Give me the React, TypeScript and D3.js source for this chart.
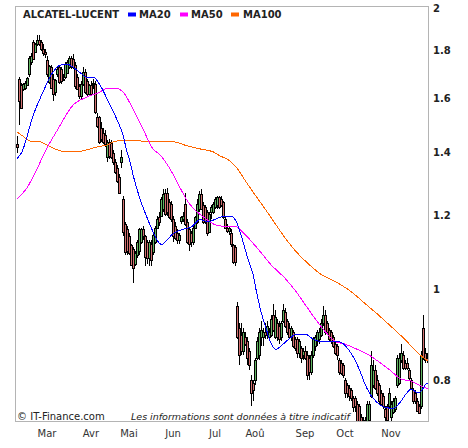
import React from 'react';
import * as d3 from 'd3';

// open, high, low, close
type Candle = [number, number, number, number];
type Pt = [number, number];

const febCandles: Candle[] = [
  [1.43, 1.46, 1.40, 1.42], [1.68, 1.69, 1.50, 1.59], [1.655, 1.665, 1.56, 1.565], [1.64, 1.665, 1.63, 1.66],
  [1.645, 1.67, 1.635, 1.665], [1.655, 1.69, 1.65, 1.685], [1.70, 1.78, 1.69, 1.77], [1.75, 1.79, 1.74, 1.78],
  [1.84, 1.85, 1.76, 1.765], [1.795, 1.835, 1.79, 1.83], [1.83, 1.87, 1.82, 1.85], [1.85, 1.87, 1.82, 1.83],
  [1.84, 1.85, 1.80, 1.81], [1.81, 1.83, 1.78, 1.79], [1.795, 1.81, 1.77, 1.785],
];
const marCandles: Candle[] = [
  [1.76, 1.78, 1.69, 1.70], [1.667, 1.74, 1.66, 1.735], [1.73, 1.74, 1.64, 1.645], [1.68, 1.70, 1.59, 1.62],
  [1.627, 1.68, 1.61, 1.675], [1.70, 1.73, 1.69, 1.72], [1.73, 1.74, 1.66, 1.667], [1.72, 1.73, 1.66, 1.67],
  [1.68, 1.70, 1.67, 1.675], [1.69, 1.75, 1.68, 1.745], [1.705, 1.76, 1.70, 1.75], [1.73, 1.78, 1.72, 1.77],
  [1.77, 1.78, 1.72, 1.735], [1.765, 1.785, 1.72, 1.73], [1.74, 1.75, 1.64, 1.65], [1.69, 1.70, 1.635, 1.64],
  [1.65, 1.66, 1.60, 1.61], [1.61, 1.67, 1.60, 1.66], [1.66, 1.73, 1.65, 1.71], [1.71, 1.72, 1.62, 1.625],
  [1.67, 1.68, 1.61, 1.62], [1.62, 1.66, 1.61, 1.655],
];
const aprCandles: Candle[] = [
  [1.655, 1.67, 1.615, 1.62], [1.665, 1.68, 1.64, 1.66], [1.66, 1.67, 1.54, 1.55], [1.53, 1.545, 1.49, 1.495],
  [1.53, 1.535, 1.43, 1.44], [1.49, 1.51, 1.44, 1.45], [1.47, 1.49, 1.43, 1.44], [1.465, 1.48, 1.42, 1.43],
  [1.385, 1.445, 1.37, 1.44], [1.44, 1.45, 1.38, 1.39], [1.435, 1.445, 1.38, 1.385], [1.40, 1.41, 1.36, 1.37],
  [1.37, 1.38, 1.33, 1.336], [1.35, 1.36, 1.30, 1.305], [1.32, 1.33, 1.27, 1.27], [1.37, 1.41, 1.35, 1.385],
  [1.25, 1.26, 1.14, 1.153], [1.175, 1.18, 1.09, 1.098], [1.16, 1.17, 1.09, 1.10],
];
const mayCandles: Candle[] = [
  [1.14, 1.15, 1.09, 1.095], [1.115, 1.12, 1.06, 1.063], [1.105, 1.11, 1.015, 1.055], [1.065, 1.10, 1.06, 1.095],
  [1.09, 1.13, 1.08, 1.125], [1.10, 1.165, 1.09, 1.16], [1.125, 1.165, 1.12, 1.16], [1.16, 1.17, 1.13, 1.14],
  [1.14, 1.145, 1.06, 1.083], [1.125, 1.13, 1.065, 1.08], [1.08, 1.13, 1.06, 1.125], [1.12, 1.13, 1.06, 1.075],
  [1.098, 1.15, 1.09, 1.145], [1.125, 1.17, 1.12, 1.165], [1.165, 1.20, 1.16, 1.19], [1.195, 1.21, 1.17, 1.18],
  [1.20, 1.255, 1.195, 1.25], [1.22, 1.28, 1.21, 1.265], [1.27, 1.28, 1.20, 1.205], [1.27, 1.285, 1.20, 1.21],
  [1.24, 1.25, 1.19, 1.195], [1.235, 1.245, 1.18, 1.19],
];
const junCandles: Candle[] = [
  [1.19, 1.20, 1.125, 1.14], [1.17, 1.18, 1.13, 1.135], [1.15, 1.16, 1.12, 1.13], [1.13, 1.15, 1.12, 1.145],
  [1.185, 1.20, 1.175, 1.195], [1.19, 1.21, 1.18, 1.20], [1.235, 1.27, 1.17, 1.175], [1.18, 1.19, 1.12, 1.125],
  [1.16, 1.165, 1.10, 1.12], [1.15, 1.155, 1.11, 1.125], [1.125, 1.17, 1.115, 1.165], [1.165, 1.20, 1.16, 1.195],
  [1.18, 1.25, 1.175, 1.235], [1.22, 1.275, 1.21, 1.265], [1.265, 1.28, 1.215, 1.22], [1.23, 1.24, 1.175, 1.18],
  [1.225, 1.23, 1.175, 1.18], [1.21, 1.215, 1.14, 1.15], [1.153, 1.21, 1.15, 1.205], [1.21, 1.23, 1.19, 1.225],
  [1.21, 1.24, 1.205, 1.235],
];
const julCandles: Candle[] = [
  [1.225, 1.255, 1.22, 1.25], [1.23, 1.26, 1.22, 1.255], [1.255, 1.26, 1.22, 1.225], [1.25, 1.26, 1.225, 1.23],
  [1.24, 1.245, 1.19, 1.195], [1.19, 1.20, 1.16, 1.165], [1.165, 1.175, 1.15, 1.155], [1.155, 1.17, 1.145, 1.165],
  [1.15, 1.16, 1.11, 1.12], [1.115, 1.12, 1.065, 1.07], [1.11, 1.115, 1.06, 1.07], [0.96, 0.97, 0.885, 0.89],
  [0.91, 0.92, 0.83, 0.85], [0.895, 0.92, 0.85, 0.86], [0.86, 0.91, 0.85, 0.90], [0.89, 0.90, 0.87, 0.875],
  [0.88, 0.89, 0.83, 0.845], [0.86, 0.865, 0.82, 0.83], [0.80, 0.81, 0.75, 0.775], [0.795, 0.80, 0.76, 0.78],
  [0.80, 0.845, 0.79, 0.84], [0.845, 0.89, 0.84, 0.88],
];
const augCandles: Candle[] = [
  [0.85, 0.91, 0.84, 0.90], [0.89, 0.925, 0.87, 0.905], [0.89, 0.91, 0.87, 0.90], [0.90, 0.92, 0.885, 0.895],
  [0.893, 0.925, 0.885, 0.915], [0.89, 0.91, 0.88, 0.90], [0.895, 0.94, 0.89, 0.93], [0.94, 0.965, 0.90, 0.905],
  [0.89, 0.95, 0.885, 0.935], [0.92, 0.93, 0.88, 0.89], [0.915, 0.925, 0.875, 0.885], [0.89, 0.925, 0.88, 0.92],
  [0.925, 0.965, 0.92, 0.95], [0.945, 0.955, 0.91, 0.915], [0.925, 0.93, 0.895, 0.90], [0.91, 0.92, 0.885, 0.89],
  [0.89, 0.915, 0.88, 0.91], [0.90, 0.905, 0.865, 0.87], [0.885, 0.89, 0.86, 0.865], [0.885, 0.89, 0.845, 0.855],
  [0.855, 0.885, 0.845, 0.88], [0.865, 0.87, 0.835, 0.845], [0.85, 0.865, 0.84, 0.86],
];
const sepCandles: Candle[] = [
  [0.86, 0.87, 0.84, 0.845], [0.85, 0.86, 0.80, 0.81], [0.845, 0.85, 0.80, 0.815], [0.815, 0.86, 0.81, 0.85],
  [0.85, 0.89, 0.845, 0.885], [0.87, 0.895, 0.86, 0.89], [0.88, 0.905, 0.87, 0.90], [0.885, 0.91, 0.875, 0.90],
  [0.895, 0.93, 0.89, 0.92], [0.92, 0.96, 0.915, 0.94], [0.94, 0.95, 0.895, 0.90], [0.92, 0.925, 0.895, 0.90],
  [0.905, 0.91, 0.88, 0.885], [0.90, 0.905, 0.875, 0.88], [0.89, 0.895, 0.865, 0.87], [0.875, 0.88, 0.85, 0.855],
  [0.87, 0.875, 0.84, 0.85], [0.84, 0.845, 0.81, 0.815], [0.835, 0.84, 0.81, 0.813], [0.83, 0.835, 0.805, 0.81],
];
const octCandles: Candle[] = [
  [0.80, 0.805, 0.765, 0.775], [0.79, 0.795, 0.765, 0.775], [0.785, 0.79, 0.76, 0.77], [0.78, 0.785, 0.76, 0.765],
  [0.765, 0.77, 0.74, 0.748], [0.765, 0.77, 0.74, 0.75], [0.755, 0.76, 0.72, 0.723], [0.75, 0.755, 0.715, 0.72],
  [0.73, 0.735, 0.70, 0.71], [0.725, 0.73, 0.70, 0.705], [0.72, 0.73, 0.70, 0.71], [0.72, 0.76, 0.715, 0.755],
  [0.725, 0.76, 0.715, 0.755], [0.77, 0.86, 0.765, 0.83], [0.79, 0.84, 0.785, 0.82], [0.82, 0.83, 0.78, 0.785],
  [0.80, 0.81, 0.77, 0.775], [0.79, 0.795, 0.755, 0.76], [0.775, 0.78, 0.75, 0.755], [0.77, 0.775, 0.745, 0.75],
  [0.745, 0.75, 0.72, 0.73], [0.75, 0.755, 0.72, 0.725], [0.75, 0.785, 0.745, 0.775],
];
const novCandles: Candle[] = [
  [0.73, 0.76, 0.72, 0.755], [0.74, 0.765, 0.735, 0.76], [0.745, 0.77, 0.74, 0.765], [0.79, 0.85, 0.785, 0.845],
  [0.795, 0.855, 0.79, 0.845], [0.84, 0.875, 0.835, 0.855], [0.85, 0.86, 0.82, 0.825], [0.835, 0.84, 0.82, 0.825],
  [0.835, 0.845, 0.82, 0.825], [0.82, 0.825, 0.80, 0.805], [0.80, 0.805, 0.78, 0.785], [0.78, 0.785, 0.755, 0.76],
  [0.775, 0.78, 0.755, 0.76], [0.76, 0.765, 0.74, 0.742], [0.75, 0.755, 0.735, 0.738], [0.75, 0.86, 0.745, 0.848],
  [0.91, 0.94, 0.84, 0.845], [0.855, 0.866, 0.835, 0.84], [0.845, 0.855, 0.835, 0.84],
];

// moving averages, read as [day index, value]
const ma20: Pt[] = [
  [0, 1.38], [2.5, 1.404], [8, 1.534], [13, 1.627], [18, 1.709], [21.5, 1.738], [25, 1.742], [28, 1.73],
  [32.5, 1.70], [35.5, 1.684], [38, 1.688], [41.5, 1.655], [46.5, 1.575], [50.5, 1.511], [53, 1.463],
  [55, 1.404], [56.5, 1.37], [58, 1.327], [61.5, 1.25], [65, 1.194], [68, 1.153], [70.5, 1.125], [72.5, 1.117],
  [75, 1.13], [78, 1.147], [82.5, 1.159], [87.5, 1.168], [91.5, 1.188], [95.5, 1.182], [100, 1.191],
  [103, 1.197], [107.5, 1.197], [110, 1.177], [113, 1.125], [115.5, 1.078], [118, 1.038], [119.5, 1.0],
  [122, 0.947], [124.5, 0.909], [127, 0.876], [129.5, 0.863], [133, 0.874], [136.5, 0.887], [139.5, 0.896],
  [144, 0.896], [148, 0.885], [151.5, 0.88], [155.5, 0.88], [160.5, 0.88], [164.5, 0.869], [168, 0.848],
  [171.5, 0.818], [174, 0.792], [176.5, 0.773], [179.5, 0.759], [184, 0.748], [188, 0.746], [191.5, 0.757],
  [194.5, 0.773], [197, 0.782], [200.5, 0.775], [202, 0.778], [204.5, 0.792], [206, 0.794],
];
const ma50: Pt[] = [
  [0, 1.25], [5, 1.285], [10, 1.346], [14, 1.404], [20.5, 1.485], [28, 1.575], [35, 1.607], [41.5, 1.627],
  [44, 1.639], [49, 1.643], [53, 1.627], [58, 1.56], [63, 1.485], [68, 1.414], [71.5, 1.394], [76.5, 1.346],
  [81.5, 1.285], [85.5, 1.241], [90, 1.211], [95, 1.188], [100, 1.171], [105, 1.168], [109, 1.168],
  [114, 1.145], [120.5, 1.105], [127, 1.063], [134, 1.028], [139.5, 0.995], [144, 0.964], [149, 0.931],
  [154, 0.902], [159, 0.88], [164, 0.874], [169, 0.865], [175.5, 0.852], [180.5, 0.838], [187, 0.818],
  [192, 0.802], [197, 0.798], [202, 0.788], [206, 0.782],
];
const ma100: Pt[] = [
  [0, 1.474], [3, 1.459], [6.5, 1.442], [11.5, 1.439], [15, 1.428], [20, 1.411], [25, 1.404], [30, 1.404],
  [35, 1.411], [40, 1.421], [45, 1.428], [50, 1.442], [55, 1.442], [61.5, 1.442], [66.5, 1.439], [71.5, 1.439],
  [78, 1.439], [85, 1.425], [91.5, 1.414], [98, 1.404], [101.5, 1.39], [105.5, 1.377], [109.5, 1.353],
  [114.5, 1.304], [119, 1.263], [124, 1.22], [129, 1.177], [134, 1.136], [139.5, 1.098], [145.5, 1.066],
  [152, 1.038], [159, 1.02], [167, 0.995], [174, 0.966], [180.5, 0.94], [187, 0.913], [194, 0.884],
  [200.5, 0.855], [205.5, 0.838],
];

const monthLabels = ['Mar', 'Avr', 'Mai', 'Jun', 'Jul', 'Aoû', 'Sep', 'Oct', 'Nov'];
const monthStarts = [15, 37, 56, 78, 99, 119, 144, 164, 187];
const yTicks = [2, 1.8, 1.6, 1.4, 1.2, 1, 0.8];

const candles: Candle[] = [
  ...febCandles, ...marCandles, ...aprCandles, ...mayCandles, ...junCandles,
  ...julCandles, ...augCandles, ...sepCandles, ...octCandles, ...novCandles,
];

const font = '"DejaVu Sans", Verdana, sans-serif';

export default function App() {
  const width = 468;
  const height = 448;
  const plot = { left: 15, top: 6, right: 429, bottom: 422 };

  const x = d3.scaleLinear().domain([-1, 206]).range([plot.left, plot.right]);
  const y = d3.scaleLog().domain([0.7214, 2.011]).range([plot.bottom, plot.top]);

  const line = d3.line<Pt>()
    .x(d => x(d[0]))
    .y(d => y(d[1]))
    .curve(d3.curveMonotoneX);

  const legend = [
    { name: 'MA20', color: '#0000ff', rx: 128, tx: 139 },
    { name: 'MA50', color: '#ff00ff', rx: 180, tx: 191 },
    { name: 'MA100', color: '#ff6600', rx: 231, tx: 243 },
  ];

  return (
    <svg width={width} height={height} style={{ position: 'absolute', left: 0, top: 0, background: '#fff' }}
      fontFamily={font}>
      <defs>
        <clipPath id="plotClip">
          <rect x={plot.left} y={plot.top} width={plot.right - plot.left} height={plot.bottom - plot.top} />
        </clipPath>
      </defs>

      {/* footer text sits under the candles */}
      <text x={17} y={420} fontSize={10} fill="#222">© IT-Finance.com</text>
      <text x={131} y={420} fontSize={9.5} fontStyle="italic" fill="#222">
        Les informations sont données à titre indicatif
      </text>

      <g clipPath="url(#plotClip)">
        {candles.map((c, i) => {
          const [o, h, l, cl] = c;
          const cx = Math.round(x(i));
          const top = Math.round(y(Math.max(o, cl)));
          const bot = Math.round(y(Math.min(o, cl)));
          const up = cl >= o;
          return (
            <g key={i}>
              <line x1={cx + 0.5} x2={cx + 0.5} y1={Math.round(y(h))} y2={Math.round(y(l))}
                stroke="#000" strokeWidth={1} />
              <rect x={cx - 0.5} y={top + 0.5} width={2} height={Math.max(1, bot - top)}
                fill={up ? '#62b462' : '#d27070'} stroke="#000" strokeWidth={1} />
            </g>
          );
        })}
        <path d={line(ma100) || ''} fill="none" stroke="#ff6600" strokeWidth={1} shapeRendering="crispEdges" />
        <path d={line(ma50) || ''} fill="none" stroke="#ff00ff" strokeWidth={1} shapeRendering="crispEdges" />
        <path d={line(ma20) || ''} fill="none" stroke="#0000ff" strokeWidth={1} shapeRendering="crispEdges" />
      </g>

      <rect x={plot.left + 0.5} y={plot.top + 0.5} width={plot.right - plot.left - 1}
        height={plot.bottom - plot.top - 1} fill="none" stroke="#b4b4b4" strokeWidth={1} />

      {/* legend */}
      <text x={23} y={17.5} fontSize={10} fontWeight="bold" fill="#222">ALCATEL-LUCENT</text>
      {legend.map(d => (
        <g key={d.name}>
          <rect x={d.rx} y={12.5} width={8} height={4} fill={d.color} />
          <text x={d.tx} y={17.5} fontSize={10} fontWeight="bold" fill="#222">{d.name}</text>
        </g>
      ))}

      {/* y axis on the right */}
      {yTicks.map(t => (
        <text key={t} x={433} y={y(t)} dy="0.35em" fontSize={10} fontWeight="bold" fill="#222">
          {String(t)}
        </text>
      ))}

      {/* month labels */}
      {monthLabels.map((m, k) => (
        <text key={m} x={x(monthStarts[k])} y={437} fontSize={10} textAnchor="middle" fill="#333">{m}</text>
      ))}
    </svg>
  );
}
